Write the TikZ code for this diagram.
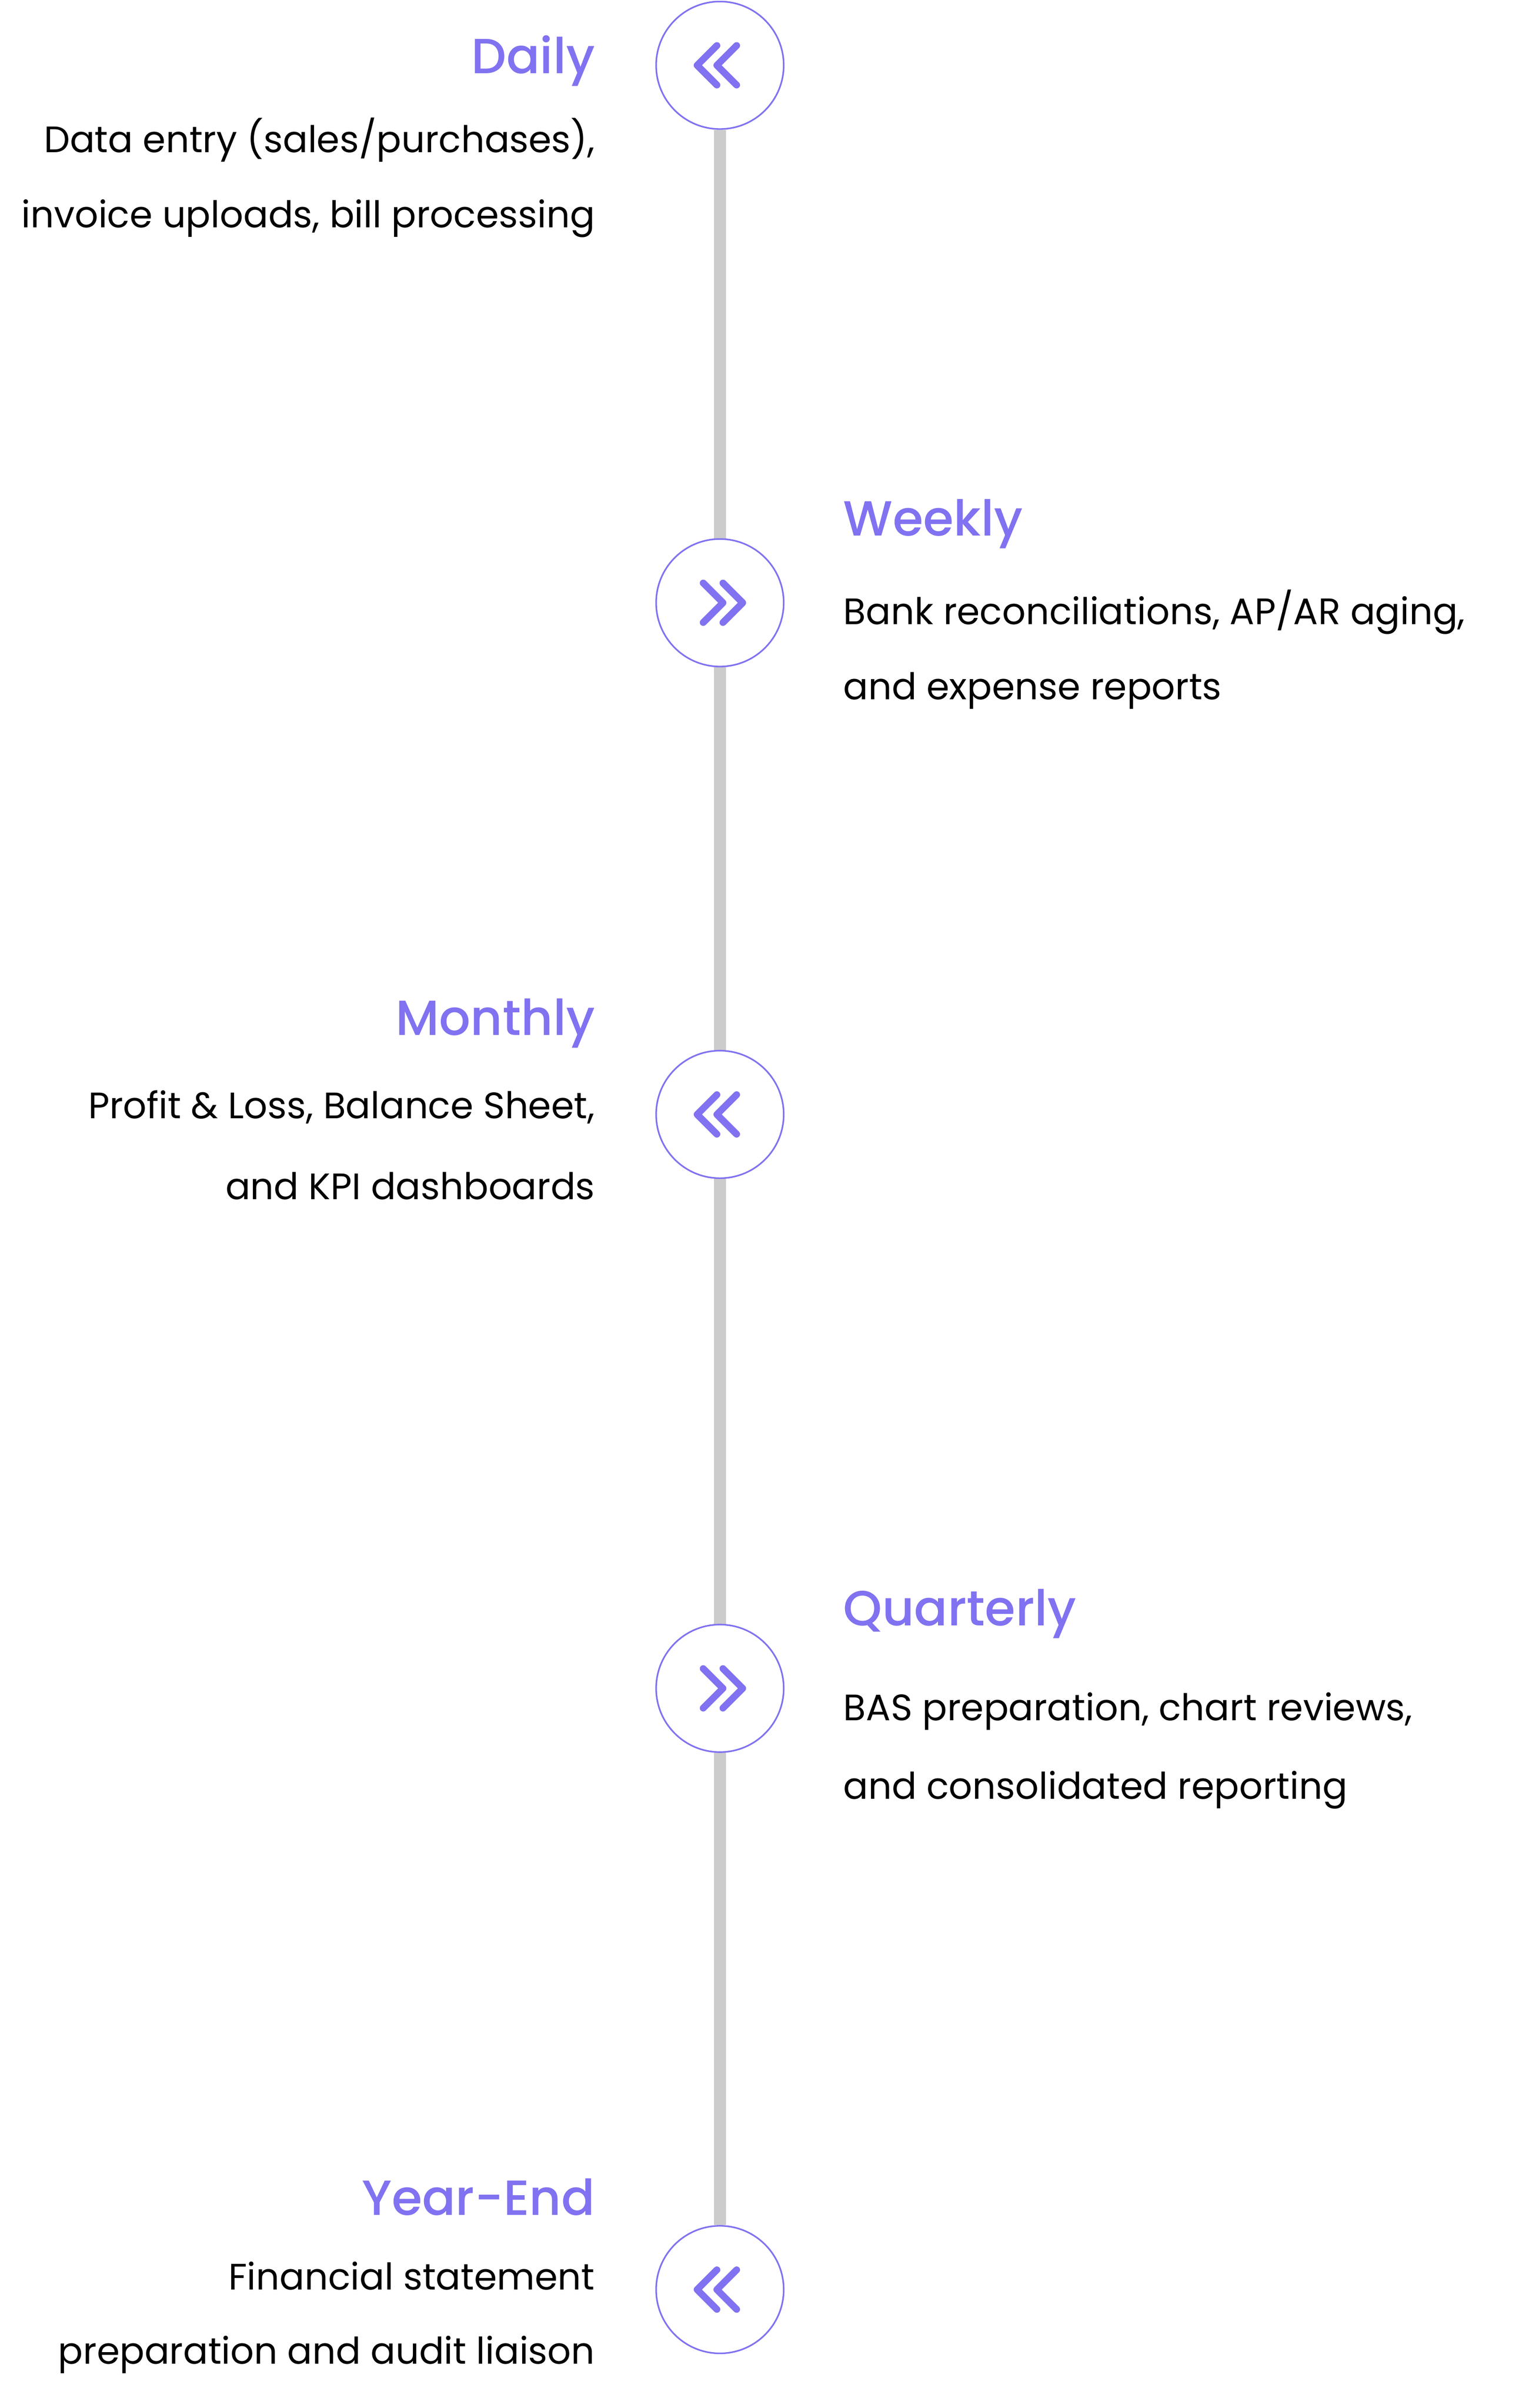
\documentclass[tikz,border=0pt]{standalone}
\usepackage{fontspec}
\setmainfont{Poppins}
\newfontfamily\titlefont{Poppins Medium}
\usetikzlibrary{calc,backgrounds}
\definecolor{accent}{HTML}{8072F0}
\definecolor{spinegray}{HTML}{CCCCCC}
\tikzset{
  step circle/.style={circle,draw=accent,line width=0.6pt,fill=white,minimum size=84*0.02cm,inner sep=0pt},
  spine/.style={spinegray,line width=8*0.02cm},
  chev/.style={accent,line width=4.5*0.02cm,line cap=round,line join=round},
  title/.style={text=accent,font=\titlefont\fontsize{18.5}{20}\selectfont,inner sep=0pt},
  body/.style={font=\fontsize{13.8}{29.5}\selectfont,inner sep=0pt,text=black}
}
\newcommand{\chevleft}[1]{%
  \draw[chev] ($(#1)+(-2,-13)$) -- ($(#1)+(-15,0)$) -- ($(#1)+(-2,13)$);
  \draw[chev] ($(#1)+(11,-13)$) -- ($(#1)+(-2,0)$) -- ($(#1)+(11,13)$);}
\newcommand{\chevright}[1]{%
  \draw[chev] ($(#1)+(2,-13)$) -- ($(#1)+(15,0)$) -- ($(#1)+(2,13)$);
  \draw[chev] ($(#1)+(-11,-13)$) -- ($(#1)+(2,0)$) -- ($(#1)+(-11,13)$);}
\begin{document}
\begin{tikzpicture}[x=0.02cm,y=-0.02cm]
  \useasboundingbox (0,0) rectangle (1000,1586);
  % circles
  \node[step circle] (c1) at (474,43) {};
  \node[step circle] (c2) at (474,397) {};
  \node[step circle] (c3) at (474,734) {};
  \node[step circle] (c4) at (474,1112) {};
  \node[step circle] (c5) at (474,1508) {};
  \begin{scope}[on background layer]
    \draw[spine] (c1) -- (c5);
  \end{scope}
  \chevleft{c1}
  \chevright{c2}
  \chevleft{c3}
  \chevright{c4}
  \chevleft{c5}
  % left texts
  \node[title,anchor=east] (t1) at (392,40) {Daily};
  \node[body,anchor=east] (b1a) at (392,92) {Data entry (sales/purchases),};
  \node[body,anchor=east] (b1b) at (392,144) {invoice uploads, bill processing};
  \node[title,anchor=east] (t3) at (392,674) {Monthly};
  \node[body,anchor=east] (b3a) at (392,729) {Profit \& Loss, Balance Sheet,};
  \node[body,anchor=east] (b3b) at (392,781) {and KPI dashboards};
  \node[title,anchor=east] (t5) at (392,1447) {Year-End};
  \node[body,anchor=east] (b5a) at (392,1499) {Financial statement};
  \node[body,anchor=east] (b5b) at (392,1551) {preparation and audit liaison};
  % right texts
  \node[title,anchor=west] (t2) at (555,345) {Weekly};
  \node[body,anchor=west] (b2a) at (555,403) {Bank reconciliations, AP/AR aging,};
  \node[body,anchor=west] (b2b) at (555,455) {and expense reports};
  \node[title,anchor=west] (t4) at (555,1063) {Quarterly};
  \node[body,anchor=west] (b4a) at (555,1127) {BAS preparation, chart reviews,};
  \node[body,anchor=west] (b4b) at (555,1179) {and consolidated reporting};
\end{tikzpicture}
\end{document}
